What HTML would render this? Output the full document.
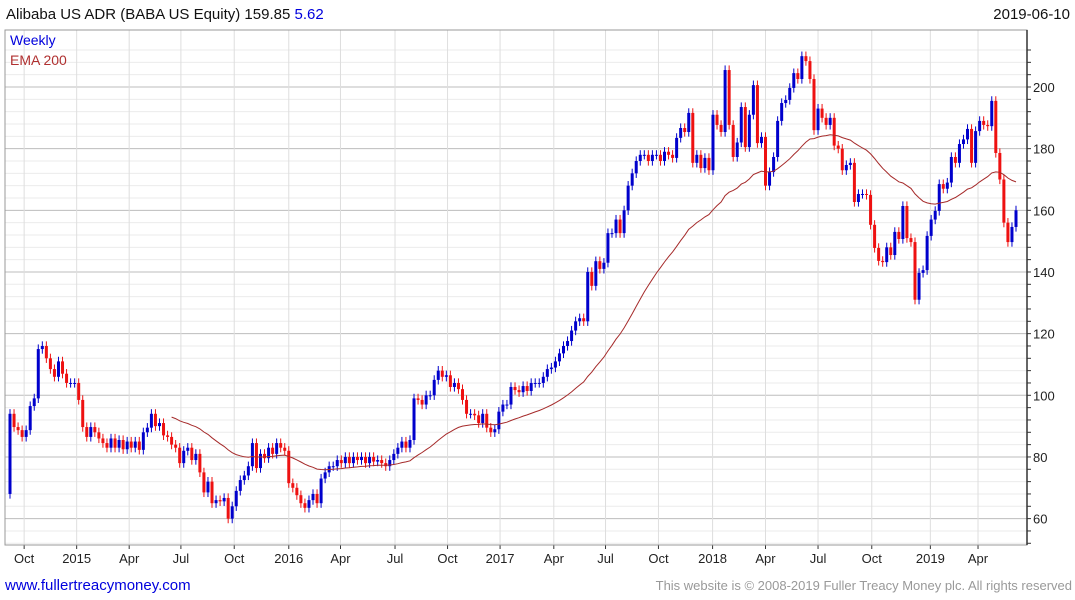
<!DOCTYPE html>
<html><head><meta charset="utf-8">
<style>
body{margin:0;background:#fff;font-family:"Liberation Sans",sans-serif;}
svg{display:block}
</style></head>
<body>
<svg id="chart" width="1075" height="600" xmlns="http://www.w3.org/2000/svg" font-family="Liberation Sans, sans-serif">
<text x="6" y="19" font-size="15" fill="#111">Alibaba US ADR (BABA US Equity) 159.85 <tspan fill="#0000dd">5.62</tspan></text>
<text x="1070" y="19" font-size="15" fill="#111" text-anchor="end">2019-06-10</text>
<g id="grid"></g>
<g id="marks"></g>
<polyline id="ema" fill="none" stroke="#a52a2a" stroke-width="1"/>
<g id="axes"></g>
<text x="10" y="45" font-size="14" fill="#0000dd">Weekly</text>
<text x="10" y="65" font-size="14" fill="#b03030">EMA 200</text>
<text x="5" y="590" font-size="15" fill="#0000dd">www.fullertreacymoney.com</text>
<text x="1072" y="590" font-size="13" fill="#999" text-anchor="end">This website is © 2008-2019 Fuller Treacy Money plc. All rights reserved</text>
</svg>
<script>
const closes=[94,89.7,88.7,86.5,88.7,96.5,99,115,116,112,108.5,106,111,107,104,104,104,98.5,89.7,86.5,89.7,88,86,84.5,83,86,83,85.5,82.5,85,83,85,82.3,88,89.5,94,90,91,87,86.5,84,83,78,82,83,79,81,75,68.5,72,65,66,65.6,66.7,60,64,69,72.5,74,77,84.5,76.4,81,79.6,83,81,84.5,83,82,71.5,70,67.6,65,63.5,
66,68,65,73,75,77,77,79,78,80,78,80,79,80,78,80,78.5,79,78,77,79,81,83,
85,83,85.5,99,98.5,97,100,100,105,108,106,106.5,102.7,104,102,98.5,94,94,93.5,91,94,89.5,88,89,94.7,97,97,102.7,101.7,101,103,101.4,104,104,104,106,108.5,109,111,113.6,116,117.6,121,124,125,124,140,135.5,143.5,141,143,152.6,152.6,157,152.6,
160,168,172,176,178,178,176,178,178,176,
179,178,177,183.5,186.7,185.4,191.6,175.4,178,173.7,177,173,191,187.7,185.4,205.5,187.7,177.3,182,193.5,180.5,191,200.6,181.8,183.8,168,172.4,177.3,189,194.8,195.8,199.7,204.5,202.6,210,208.4,202.6,
186,193,190,187.7,190,181,180,173,174.7,175.4,162.7,165.3,165.3,165,155.3,147.8,143.6,143.2,148,145.5,153,150.7,161.4,151,149.7,131,139.7,140.6,151.7,157,159.8,168.5,167,169,177.3,175.4,181.5,183,186.4,175.4,185.7,189,187.7,187.3,195.5,178.6,170,156,149.7,154.6,160];
const yTicks=[60,80,100,120,140,160,180,200];
const xLabels=["Oct","2015","Apr","Jul","Oct","2016","Apr","Jul","Oct","2017","Apr","Jul","Oct","2018","Apr","Jul","Oct","2019","Apr"];
const xLabelWeeks=[3.5,16.5,29.5,42.3,55.5,69,81.8,95.3,108.3,121.3,134.6,147.4,160.5,173.9,187,200,213.3,227.8,239.6];
const emaPeriod=40;

const NS="http://www.w3.org/2000/svg";
const L=5,R=1027,T=30,B=545;
const x0=10,x1=1016;
const n=closes.length;
const xs=i=>x0+i*(x1-x0)/(n-1);
const ys=v=>87+(200-v)*3.083;
function mk(tag,attrs,parent){const e=document.createElementNS(NS,tag);for(const k in attrs)e.setAttribute(k,attrs[k]);parent.appendChild(e);return e;}
const grid=document.getElementById('grid'),axes=document.getElementById('axes'),marks=document.getElementById('marks');
for(let v=52;v<=212;v+=4){const y=ys(v);if(y<T||y>B)continue;
 const ln=mk('line',{x1:L,x2:R,y1:y,y2:y,stroke:(v%20===0)?'#bdbdbd':'#ebebeb','stroke-width':1},grid);
 
 
 const tk=mk('line',{x1:R,x2:R+4,y1:y,y2:y,stroke:'#333','stroke-width':1},axes);
 
 
}
xLabelWeeks.forEach((w,k)=>{const x=xs(w);
 const ln=mk('line',{x1:x,x2:x,y1:T,y2:B,stroke:'#dedede','stroke-width':1},grid);
 
 
 const t=mk('text',{x:x,y:563,'font-size':13,fill:'#222','text-anchor':'middle'},axes);t.textContent=xLabels[k];
 
 
 const tk=mk('line',{x1:x,x2:x,y1:B,y2:B+4,stroke:'#333'},axes);
 
 
});
yTicks.forEach(v=>{const t=mk('text',{x:1033,y:ys(v)+5,'font-size':13,fill:'#222'},axes);t.textContent=v;
 
 });
const fr=mk('rect',{x:L,y:T,width:R-L,height:B-T,fill:'none',stroke:'#999','stroke-width':1},axes);


const ax=mk('line',{x1:R,x2:R,y1:T,y2:B,stroke:'#333','stroke-width':1.5},axes);


for(let i=0;i<n;i++){
 const c=closes[i],o=i===0?68:closes[i-1];
 const up=c>=o,col=up?'#0000cc':'#ee1111';
 const hi=Math.max(o,c)+1.5,lo=Math.min(o,c)-1.5;
 const x=xs(i);
 const g=mk('g',{},marks);
 
 
 mk('line',{x1:x,x2:x,y1:ys(hi),y2:ys(lo),stroke:col,'stroke-width':1},g);
 const top=ys(Math.max(o,c)),bot=ys(Math.min(o,c));
 mk('rect',{x:x-1.5,y:top,width:3,height:Math.max(1,bot-top),fill:col},g);
}
let ema=0;for(let i=0;i<emaPeriod;i++)ema+=closes[i];ema/=emaPeriod;
const a=2/(emaPeriod+1);const pts=[];
for(let i=emaPeriod;i<n;i++){ema=a*closes[i]+(1-a)*ema;pts.push(xs(i).toFixed(1)+','+ys(ema).toFixed(1));}
document.getElementById('ema').setAttribute('points',pts.join(' '));
</script>
</body></html>
